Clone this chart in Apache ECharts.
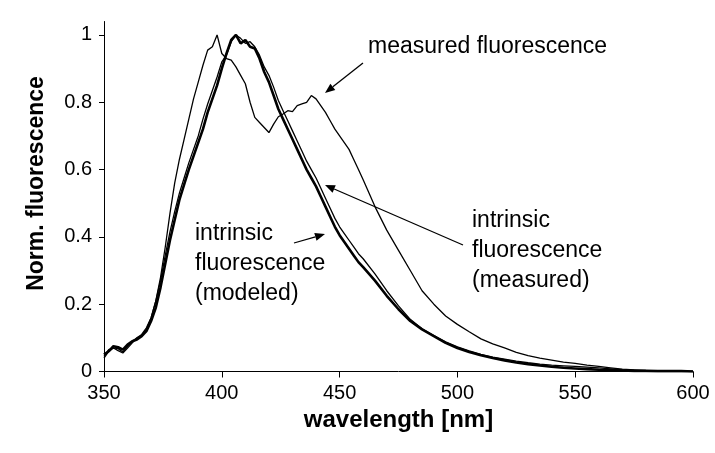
<!DOCTYPE html>
<html>
<head>
<meta charset="utf-8">
<script src="https://cdn.jsdelivr.net/npm/echarts@6/dist/echarts.min.js"></script>
<style>
html,body{margin:0;padding:0;background:#fff;}
#chart{width:715px;height:453px;}
</style>
</head>
<body>
<div id="chart"></div>
<script>
// wavelength [nm]
var wavelengths = [350,352,354,356,358,360,362,364,366,368,370,372,374,376,378,380,382,384,386,388,390,392,394,396,398,400,402,404,406,408,410,412,414,416,418,420,422,424,426,428,430,432,434,436,438,440,442,444,446,448,450,452,454,456,458,460,
  465,470,475,480,485,490,495,500,505,510,515,520,525,530,535,540,545,550,555,560,565,570,575,580,585,590,595,600];

// measured fluorescence (thin)
var measuredFluorescence = [0.04,0.06,0.07,0.068,0.058,0.075,0.09,0.10,0.107,0.125,0.16,0.21,0.28,0.37,0.47,0.56,0.63,0.69,0.75,0.81,0.86,0.91,0.955,0.965,1.0,0.945,0.93,0.925,0.905,0.88,0.855,0.80,0.755,0.74,0.725,0.71,0.735,0.757,0.765,0.775,0.772,0.79,0.795,0.80,0.82,0.81,0.79,0.77,0.745,0.72,0.70,0.68,0.66,0.63,0.60,0.57,
  0.49,0.42,0.36,0.30,0.24,0.20,0.165,0.14,0.118,0.097,0.082,0.07,0.057,0.047,0.04,0.034,0.028,0.024,0.019,0.015,0.011,0.007,0.005,0.003,0.002,0.002,0.001,0.0];

// intrinsic fluorescence (measured) (thin)
var intrinsicMeasured = [0.045,0.065,0.07,0.062,0.055,0.07,0.085,0.10,0.11,0.13,0.16,0.21,0.27,0.345,0.415,0.475,0.53,0.575,0.62,0.66,0.70,0.75,0.795,0.835,0.875,0.92,0.94,0.98,1.0,0.99,0.975,0.98,0.965,0.94,0.905,0.88,0.845,0.805,0.775,0.745,0.715,0.685,0.655,0.625,0.60,0.575,0.545,0.515,0.485,0.455,0.43,0.41,0.39,0.37,0.35,0.335,
  0.29,0.24,0.195,0.155,0.127,0.107,0.088,0.073,0.061,0.051,0.043,0.037,0.031,0.026,0.022,0.019,0.017,0.015,0.013,0.011,0.008,0.005,0.003,0.002,0.001,0.001,0.001,0.0];

// intrinsic fluorescence (modeled) (thick)
var intrinsicModeled = [0.05,0.06,0.075,0.072,0.065,0.08,0.09,0.095,0.105,0.12,0.15,0.19,0.25,0.32,0.39,0.45,0.51,0.555,0.60,0.64,0.68,0.72,0.77,0.81,0.85,0.90,0.945,0.985,1.0,0.975,0.985,0.965,0.96,0.93,0.89,0.86,0.82,0.78,0.75,0.72,0.69,0.66,0.63,0.60,0.575,0.55,0.52,0.49,0.46,0.43,0.405,0.385,0.365,0.345,0.325,0.31,
  0.27,0.225,0.185,0.15,0.125,0.105,0.085,0.07,0.058,0.048,0.04,0.033,0.027,0.022,0.018,0.014,0.011,0.009,0.007,0.005,0.004,0.003,0.002,0.002,0.001,0.001,0.001,0.0];

var yTicks = [0, 0.2, 0.4, 0.6, 0.8, 1];
var xTicks = [350, 400, 450, 500, 550, 600];

function pairs(vals) {
  return wavelengths.map(function (w, i) { return [w, vals[i]]; });
}

var FONT = '"Liberation Sans", Arial, sans-serif';

function arrow(x1, y1, x2, y2) {
  var dx = x2 - x1, dy = y2 - y1, L = Math.sqrt(dx*dx + dy*dy);
  var ux = dx / L, uy = dy / L, hl = 10, hw = 4;
  var bx = x2 - ux*hl, by = y2 - uy*hl;
  return [
    { type: 'line', shape: { x1: x1, y1: y1, x2: bx, y2: by }, style: { stroke: '#000', lineWidth: 1.3 }, silent: true },
    { type: 'polygon', shape: { points: [[x2, y2], [bx - uy*hw, by + ux*hw], [bx + uy*hw, by - ux*hw]] }, style: { fill: '#000' }, silent: true }
  ];
}

var chart = echarts.init(document.getElementById('chart'), null, { renderer: 'canvas' });

var graphics = [
  { type: 'text', left: 368, top: 35, style: { text: 'measured fluorescence', font: '23px ' + FONT, fill: '#000' } },
  { type: 'text', left: 195, top: 219, style: { text: 'intrinsic\nfluorescence\n(modeled)', font: '23px ' + FONT, fill: '#000', lineHeight: 30 } },
  { type: 'text', left: 472, top: 206, style: { text: 'intrinsic\nfluorescence\n(measured)', font: '23px ' + FONT, fill: '#000', lineHeight: 30 } }
].concat(arrow(363, 63, 325, 93))
 .concat(arrow(463, 245, 325, 185))
 .concat(arrow(294, 243, 325, 234));

chart.setOption({
  animation: false,
  backgroundColor: '#fff',
  grid: { left: 104, right: 22, top: 21.5, bottom: 81.5, containLabel: false },
  xAxis: {
    type: 'value', min: 350, max: 600, interval: 50,
    name: 'wavelength [nm]', nameLocation: 'middle', nameGap: 23,
    nameTextStyle: { fontFamily: FONT, fontSize: 24, fontWeight: 'bold', color: '#000' },
    axisLine: { show: true, onZero: false, lineStyle: { color: '#000', width: 1 } },
    axisTick: { show: true, inside: false, length: 6, lineStyle: { color: '#000' } },
    axisLabel: { fontFamily: FONT, fontSize: 20, color: '#000', margin: 12, customValues: xTicks },
    splitLine: { show: false }
  },
  yAxis: {
    type: 'value', min: 0, max: 1.04,
    name: 'Norm. fluorescence', nameLocation: 'middle', nameGap: 56,
    nameTextStyle: { fontFamily: FONT, fontSize: 23, fontWeight: 'bold', color: '#000', padding: [0, 0, 0, 26] },
    axisLine: { show: true, onZero: false, lineStyle: { color: '#000', width: 1 } },
    axisTick: { show: true, inside: false, length: 5, lineStyle: { color: '#000' }, customValues: yTicks },
    axisLabel: { fontFamily: FONT, fontSize: 20, color: '#000', margin: 12, customValues: yTicks },
    splitLine: { show: false }
  },
  series: [
    { name: 'measured fluorescence', type: 'line', data: pairs(measuredFluorescence), showSymbol: false, symbol: 'none',
      lineStyle: { color: '#000', width: 1.3 }, z: 2 },
    { name: 'intrinsic fluorescence (measured)', type: 'line', data: pairs(intrinsicMeasured), showSymbol: false, symbol: 'none',
      lineStyle: { color: '#000', width: 1.3 }, z: 2 },
    { name: 'intrinsic fluorescence (modeled)', type: 'line', data: pairs(intrinsicModeled), showSymbol: false, symbol: 'none',
      lineStyle: { color: '#000', width: 2.6 }, z: 3 }
  ],
  graphic: graphics
});
</script>
</body>
</html>
